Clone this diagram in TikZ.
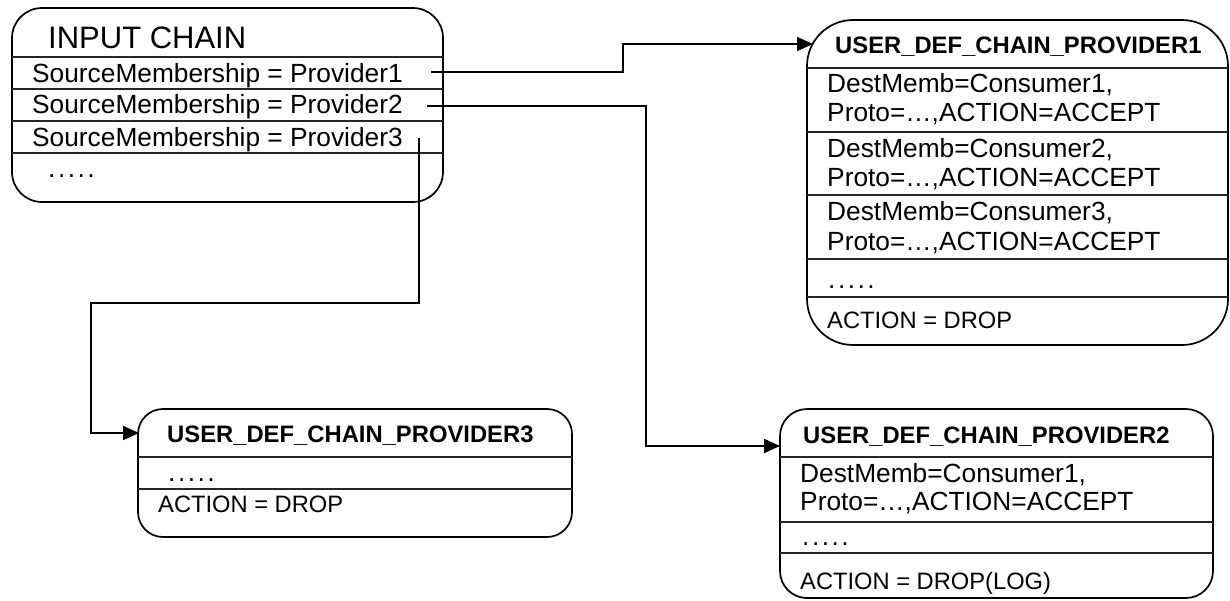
\documentclass[tikz,border=0pt]{standalone}
\usepackage{fontspec}
\setmainfont{Liberation Sans}
\usetikzlibrary{arrows.meta}
\newcommand{\fivedots}{.\kern2.5pt.\kern2.5pt.\kern2.5pt.\kern2.5pt.}
\begin{document}
\begin{tikzpicture}[x=1pt,y=-1pt,
  box/.style={draw, line width=1.7pt, rectangle, anchor=north west, inner sep=0pt, outer sep=0pt},
  sepline/.style={line width=1.3pt, draw=black!85},
  txt/.style={anchor=base west, inner sep=0pt, font=\fontsize{26.3}{30}\selectfont},
  ttl/.style={anchor=base west, inner sep=0pt, font=\fontsize{23.8}{28}\selectfont\bfseries},
  act/.style={anchor=base west, inner sep=0pt, font=\fontsize{23.7}{28}\selectfont},
  conn/.style={line width=1.8pt, -{Triangle[length=16pt,width=14pt]}},
]
\useasboundingbox (0,0) rectangle (1230,600);

% INPUT CHAIN
\node[box, rounded corners=30pt, minimum width=431pt, minimum height=194pt] (inp) at (12,8) {};
\draw[sepline] (12,57) -- (443,57);
\draw[sepline] (12,89) -- (443,89);
\draw[sepline] (12,121) -- (443,121);
\draw[sepline] (12,153) -- (443,153);
\node[anchor=base west, inner sep=0pt, font=\fontsize{31}{34}\selectfont] (inpt) at (48,48) {INPUT CHAIN};
\node[txt] (r1) at (32,82) {SourceMembership = Provider1};
\node[txt] (r2) at (32,113.5) {SourceMembership = Provider2};
\node[txt] (r3) at (32,146) {SourceMembership = Provider3};
\node[txt] (inpd) at (48,177) {\fivedots};

% PROVIDER1
\node[box, rounded corners=46pt, minimum width=421pt, minimum height=325pt] (p1) at (807,20) {};
\draw[sepline] (807,68) -- (1228,68);
\draw[sepline] (807,132) -- (1228,132);
\draw[sepline] (807,195) -- (1228,195);
\draw[sepline] (807,259) -- (1228,259);
\draw[sepline] (807,297) -- (1228,297);
\node[ttl] (p1t) at (835,53) {USER\_DEF\_CHAIN\_PROVIDER1};
\node[txt] (p1a1) at (827,92.7) {DestMemb=Consumer1,};
\node[txt] (p1a2) at (827,121) {Proto=…,ACTION=ACCEPT};
\node[txt] (p1b1) at (827,157) {DestMemb=Consumer2,};
\node[txt] (p1b2) at (827,186) {Proto=…,ACTION=ACCEPT};
\node[txt] (p1c1) at (827,220) {DestMemb=Consumer3,};
\node[txt] (p1c2) at (827,250) {Proto=…,ACTION=ACCEPT};
\node[txt] (p1d) at (828,288) {\fivedots};
\node[act] (p1e) at (827,328) {ACTION = DROP};

% PROVIDER2
\node[box, rounded corners=27pt, minimum width=433pt, minimum height=189pt] (p2) at (780,409) {};
\draw[sepline] (780,457) -- (1213,457);
\draw[sepline] (780,522) -- (1213,522);
\draw[sepline] (780,553) -- (1213,553);
\node[ttl] (p2t) at (803,443) {USER\_DEF\_CHAIN\_PROVIDER2};
\node[txt] (p2a1) at (800,482) {DestMemb=Consumer1,};
\node[txt] (p2a2) at (800,510) {Proto=…,ACTION=ACCEPT};
\node[txt] (p2d) at (802,545) {\fivedots};
\node[act] (p2e) at (800,589) {ACTION = DROP(LOG)};

% PROVIDER3
\node[box, rounded corners=25pt, minimum width=434pt, minimum height=128pt] (p3) at (138,409) {};
\draw[sepline] (138,457) -- (572,457);
\draw[sepline] (138,489) -- (572,489);
\node[ttl] (p3t) at (167,442) {USER\_DEF\_CHAIN\_PROVIDER3};
\node[txt] (p3d) at (168,481) {\fivedots};
\node[act] (p3e) at (158,512) {ACTION = DROP};

% connectors
\coordinate (r1s) at (431,72);
\coordinate (p1in) at (813,44);
\coordinate (r2s) at (427,106);
\coordinate (p2in) at (780,446);
\coordinate (r3s) at (419,138);
\coordinate (p3in) at (139,433);
\draw[conn] (r1s) -- (623,72) |- (p1in);
\draw[conn] (r2s) -- (646,106) |- (p2in);
\draw[conn] (r3s) |- (91,303) |- (p3in);
\end{tikzpicture}
\end{document}
